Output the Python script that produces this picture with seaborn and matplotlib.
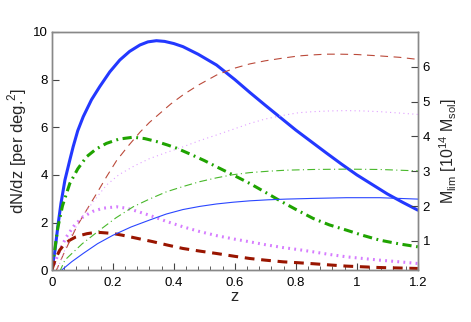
import numpy as np
import pandas as pd
import matplotlib
matplotlib.use("Agg")
import matplotlib.pyplot as plt
import seaborn as sns
from matplotlib.ticker import MultipleLocator, FormatStrFormatter

# dN/dz curves (left axis)
z_blue = [0, 0.01, 0.021, 0.03, 0.043, 0.059, 0.07, 0.085, 0.103, 0.13, 0.157, 0.19, 0.223, 0.255, 0.289,
          0.315, 0.343, 0.37, 0.40, 0.43, 0.48, 0.54, 0.60, 0.65, 0.70, 0.75, 0.80, 0.85, 0.90, 0.95,
          1.0, 1.05, 1.1, 1.15, 1.2]
n_blue = [0, 0.8, 1.96, 2.8, 3.78, 4.62, 5.18, 5.85, 6.44, 7.15, 7.70, 8.32, 8.82, 9.18, 9.45,
          9.58, 9.63, 9.60, 9.51, 9.38, 9.06, 8.61, 8.0, 7.45, 6.92, 6.4, 5.88, 5.4, 4.92, 4.45,
          4.0, 3.6, 3.2, 2.85, 2.52]

z_green = [0, 0.01, 0.02, 0.035, 0.059, 0.085, 0.114, 0.145, 0.179, 0.22, 0.267, 0.305, 0.343, 0.38,
           0.409, 0.452, 0.50, 0.54, 0.6, 0.649, 0.7, 0.75, 0.8, 0.857, 0.91, 0.966, 1.02, 1.075, 1.14, 1.2]
n_green = [0, 0.9, 1.8, 2.7, 3.64, 4.25, 4.76, 5.08, 5.32, 5.5, 5.58, 5.52, 5.4, 5.25,
           5.12, 4.88, 4.6, 4.34, 3.96, 3.64, 3.27, 2.9, 2.55, 2.17, 1.9, 1.68, 1.46, 1.26, 1.1, 0.98]

z_violet = [0, 0.01, 0.02, 0.034, 0.048, 0.075, 0.103, 0.135, 0.168, 0.212, 0.245, 0.28, 0.321, 0.375,
            0.43, 0.485, 0.54, 0.6, 0.649, 0.7, 0.757, 0.81, 0.857, 0.91, 0.966, 1.02, 1.075, 1.14, 1.2]
n_violet = [0, 0.3, 0.65, 1.05, 1.40, 1.9, 2.24, 2.47, 2.6, 2.66, 2.6, 2.47, 2.3, 2.05,
            1.82, 1.62, 1.45, 1.3, 1.19, 1.07, 0.95, 0.86, 0.77, 0.66, 0.56, 0.49, 0.42, 0.35, 0.28]

z_red = [0, 0.007, 0.015, 0.026, 0.04, 0.059, 0.078, 0.097, 0.115, 0.135, 0.16, 0.2, 0.23, 0.267, 0.3,
         0.33, 0.38, 0.43, 0.485, 0.54, 0.6, 0.649, 0.7, 0.758, 0.81, 0.857, 0.91, 0.966, 1.02, 1.075, 1.14, 1.2]
n_red = [0, 0.28, 0.55, 0.84, 1.07, 1.26, 1.39, 1.47, 1.53, 1.57, 1.58, 1.54, 1.47, 1.37, 1.28,
         1.2, 1.05, 0.91, 0.8, 0.70, 0.58, 0.49, 0.42, 0.35, 0.31, 0.27, 0.22, 0.17, 0.14, 0.11, 0.09, 0.07]

# M_lim curves (right axis)
zm_red = [0.012, 0.04, 0.081, 0.115, 0.147, 0.18, 0.212, 0.25, 0.289, 0.32, 0.349, 0.39, 0.43, 0.48, 0.54,
          0.6, 0.649, 0.7, 0.76, 0.81, 0.857, 0.9, 0.944, 1.0, 1.075, 1.14, 1.2]
m_red = [0.1, 0.65, 1.40, 1.9, 2.36, 2.85, 3.3, 3.72, 4.12, 4.4, 4.62, 4.93, 5.19, 5.47, 5.76,
         5.96, 6.08, 6.17, 6.25, 6.31, 6.34, 6.36, 6.36, 6.35, 6.31, 6.27, 6.21]

zm_violet = [0.015, 0.056, 0.1, 0.138, 0.179, 0.22, 0.27, 0.32, 0.37, 0.43, 0.485, 0.54, 0.6, 0.649, 0.7,
             0.769, 0.81, 0.857, 0.91, 0.966, 1.02, 1.075, 1.14, 1.2]
m_violet = [0.1, 1.05, 1.7, 2.15, 2.6, 2.9, 3.15, 3.36, 3.52, 3.7, 3.88, 4.04, 4.22, 4.37, 4.5,
            4.62, 4.68, 4.71, 4.73, 4.74, 4.73, 4.71, 4.67, 4.63]

zm_green = [0.025, 0.043, 0.1, 0.157, 0.21, 0.267, 0.32, 0.376, 0.43, 0.485, 0.54, 0.594, 0.649, 0.71,
            0.769, 0.857, 0.966, 1.075, 1.2]
m_green = [0.1, 0.45, 0.92, 1.31, 1.66, 1.98, 2.2, 2.41, 2.56, 2.70, 2.81, 2.9, 2.96, 3.0,
           3.03, 3.05, 3.06, 3.05, 3.01]

zm_blue = [0.032, 0.065, 0.103, 0.15, 0.2, 0.26, 0.321, 0.375, 0.43, 0.485, 0.54, 0.594, 0.649, 0.71,
           0.769, 0.857, 0.966, 1.075, 1.2]
m_blue = [0.16, 0.4, 0.64, 0.92, 1.16, 1.4, 1.6, 1.77, 1.9, 1.99, 2.06, 2.11, 2.15, 2.18,
          2.20, 2.22, 2.24, 2.24, 2.20]

sns.set_style("ticks")
plt.rcParams["font.family"] = ["Liberation Sans", "DejaVu Sans"]
plt.rcParams["mathtext.fontset"] = "custom"
plt.rcParams["mathtext.rm"] = "Liberation Sans"

fig = plt.figure(figsize=(4.71, 3.22), dpi=100)
ax = fig.add_axes([0.110, 0.161, 0.777, 0.740])
ax2 = ax.twinx()

thick = 2.2
thin = 0.8
sns.lineplot(x=z_blue, y=n_blue, ax=ax, color="#2338ff", lw=thick, sort=False)
sns.lineplot(x=z_green, y=n_green, ax=ax, color="#1fa300", lw=thick, sort=False,
             linestyle=(0, (3, 1.5, 0.6, 1.5)))
sns.lineplot(x=z_violet, y=n_violet, ax=ax, color="#d67cff", lw=thick, sort=False,
             linestyle=(0, (0.6, 1.4)))
sns.lineplot(x=z_red, y=n_red, ax=ax, color="#991500", lw=thick, sort=False,
             linestyle=(0, (3.2, 2.2)))

sns.lineplot(x=zm_red, y=m_red, ax=ax2, color="#bb4a3a", lw=thin, sort=False,
             linestyle=(0, (7, 5)))
sns.lineplot(x=zm_violet, y=m_violet, ax=ax2, color="#e0a0ff", lw=thin, sort=False,
             linestyle=(0, (1, 3)))
sns.lineplot(x=zm_green, y=m_green, ax=ax2, color="#48b82a", lw=thin, sort=False,
             linestyle=(0, (7, 3, 1, 3)))
sns.lineplot(x=zm_blue, y=m_blue, ax=ax2, color="#2a46ff", lw=thin, sort=False)

ax.set_xlim(0, 1.2)
ax.set_ylim(0, 10)
ax2.set_ylim(0.16, 7.0)
ax.xaxis.set_major_locator(MultipleLocator(0.2))
ax.xaxis.set_minor_locator(MultipleLocator(0.04))
ax.xaxis.set_major_formatter(FormatStrFormatter("%g"))
ax.yaxis.set_major_locator(MultipleLocator(2))
ax2.set_yticks([1, 2, 3, 4, 5, 6])

for a in (ax, ax2):
    for s in a.spines.values():
        s.set_visible(True)
        s.set_color("#888888")
        s.set_linewidth(1.0)
    a.tick_params(direction="in", labelsize=9.5, colors="#444444", labelcolor="black", width=0.8)
ax.tick_params(axis="x", which="major", length=5, top=False, pad=5)
ax.tick_params(axis="x", which="minor", length=3, direction="in", colors="#444444", top=False)
ax.tick_params(axis="y", length=5, right=False, pad=3)
ax2.tick_params(axis="y", length=5)

ax.set_xlabel("z", fontsize=12, labelpad=0)
ax.set_ylabel(r"dN/dz [per deg.$^2$]", fontsize=12, labelpad=3)
ax2.set_ylabel(r"M$_{\rm lim}$ [10$^{14}$ M$_{\rm sol}$]", fontsize=11.5, labelpad=5)

fig.savefig("out.png", dpi=100)
